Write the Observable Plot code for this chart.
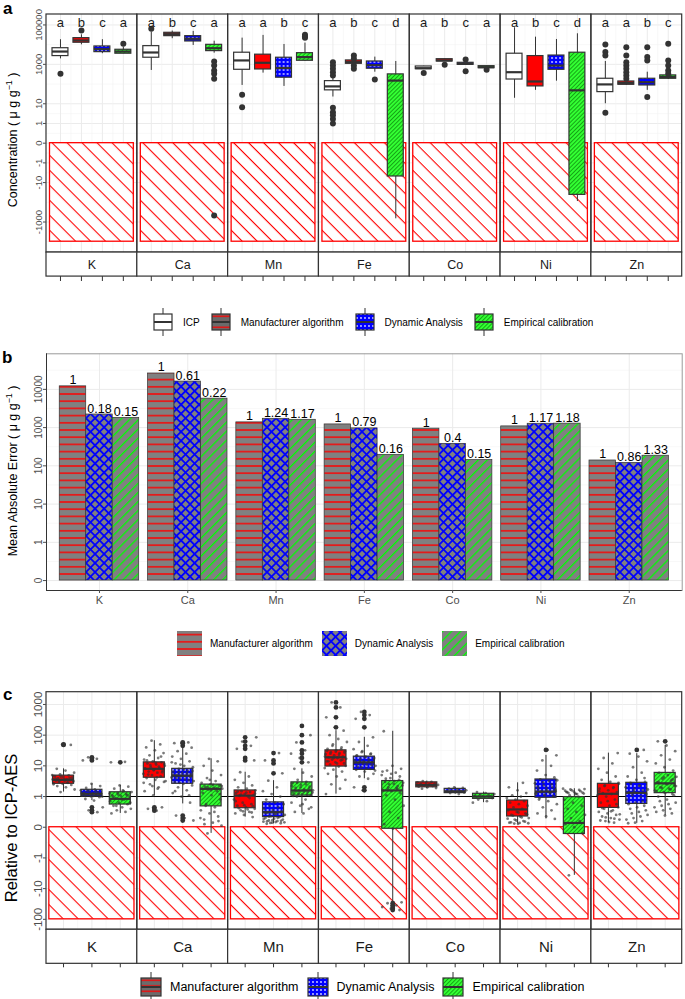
<!DOCTYPE html>
<html><head><meta charset="utf-8">
<script src="https://cdn.jsdelivr.net/npm/d3@7"></script>
<script src="https://cdn.jsdelivr.net/npm/@observablehq/plot@0.6"></script>
<style>
html,body{margin:0;padding:0;background:#fff;}
#root{position:relative;width:685px;height:999px;font-family:"Liberation Sans",Arial,Helvetica,sans-serif;overflow:hidden;background:#fff;}
.abs{position:absolute;left:0;}
.abs svg{display:block;}
.tag{position:absolute;font-weight:bold;font-size:17px;line-height:17px;color:#000;}
.ytitle{position:absolute;white-space:nowrap;transform:translate(-50%,-50%) rotate(-90deg);color:#000;line-height:1;}
.ytitle sup{font-size:0.7em;line-height:0;}
.legend{position:absolute;display:flex;align-items:center;white-space:nowrap;color:#000;}
.legend svg{display:block;flex:none;}
.item{display:flex;align-items:center;}
</style></head>
<body><div id="root"></div>
<script>
// ---------------- DATA ----------------
const elements = ["K", "Ca", "Mn", "Fe", "Co", "Ni", "Zn"];
const methodsA = ["ICP", "Manufacturer algorithm", "Dynamic Analysis", "Empirical calibration"];
const methodsC = ["Manufacturer algorithm", "Dynamic Analysis", "Empirical calibration"];

// Panel a: concentration box statistics (µg/g) per element: [lower whisker, Q1, median, Q3, upper whisker]
const boxA_ICP = [[1900,2630,4470,6600,17800],[490,2170,4000,8400,43000],[85,530,1580,3900,21400],[22,48,76,141,224],[560,570,640,780,800],[19,170,400,3470,72000],[10,39,96,186,1400]];
const boxA_Man = [[9800,12500,16300,21400,31700],[20000,27000,34000,40000,49000],[360,550,1200,3100,29500],[1000,1070,1290,1580,1700],[1380,1400,1580,1830,1850],[48,76,135,2630,24000],[85,92,112,135,150]];
const boxA_Dyn = [[3470,4170,5900,8100,17800],[9100,14500,20000,27000,47000],[76,210,650,2170,10200],[400,600,910,1400,2330],[940,950,1070,1200,1250],[140,530,870,2800,18300],[48,85,125,186,400]];
const boxA_Emp = [[3470,3470,4470,5500,7400],[3700,4700,6600,9800,15000],[1400,1520,2330,3700,12000],[-690,-4.9,150,310,1400],[630,640,720,810,820],[-91,-42,48,3900,35600],[170,186,225,275,300]];
const outA_ICP = [[330],[64000],[29,6.7],[1290,870,600,400,275,6.3,3.7,2.6,1.7,1],[360],[],[10200,4200,2800,3.5]];
const outA_Man = [[52500],[],[],[2800,1900,870,600],[950],[],[7400,2800,1290,870,600,400,275,186]];
const outA_Dyn = [[],[],[],[170],[1780,450],[],[7400,2330,1580,22]];
const outA_Emp = [[11200],[1400,870,490,330,186,-470],[32000,26000,22500],[],[540],[],[11200,1580,870,490,330]];
const lettersA = [["a","b","c","a"],["a","b","c","a"],["a","a","b","c"],["a","b","c","d"],["a","b","c","a"],["a","b","c","d"],["a","a","b","c"]];
const negA = -10000;
const yTickA = [-1000, -10, -1, 0, 1, 10, 1000, 100000];

// Panel b: mean absolute error (µg/g) and labels
const maeMan = [12000, 26000, 1370, 1210, 940, 1075, 138];
const maeDyn = [2200, 16000, 1700, 955, 376, 1260, 119];
const maeEmp = [1800, 5720, 1600, 194, 141, 1270, 184];
const labMan = ["1", "1", "1", "1", "1", "1", "1"];
const labDyn = ["0.18", "0.61", "1.24", "0.79", "0.4", "1.17", "0.86"];
const labEmp = ["0.15", "0.22", "1.17", "0.16", "0.15", "1.18", "1.33"];
const yTickB = [0, 1, 10, 100, 1000, 10000];

// Panel c: relative to ICP-AES
const boxC_Man = [[1.4,2.6,3.5,4.8,8],[1.07,4.1,8,13,66],[0.33,0.62,1.07,1.58,6.2],[1.2,9.5,19,32,140],[1.8,2.0,2.4,2.9,3.2],[0.11,0.35,0.58,0.87,2.8],[0.15,0.63,1.23,2.6,26]];
const boxC_Dyn = [[0.87,1.0,1.23,1.66,2.6],[0.76,2.6,4.8,8,39],[0.11,0.33,0.49,0.81,3.3],[3.8,7.4,13,20,85],[1.2,1.29,1.48,1.78,2.0],[0.27,0.96,1.45,3.6,22],[0.13,0.76,1.32,2.8,25]];
const boxC_Emp = [[0.45,0.74,0.925,1.38,2.3],[-0.2,0.68,1.78,2.45,17],[0.45,1.07,1.58,2.9,8],[-28,-0.05,1.58,3.2,134],[0.8,0.925,1.0,1.23,1.4],[-3.7,-0.22,0.14,0.98,1.8],[0.38,1.29,2.7,5.9,46]];
const outC_Man = [[48,50],[0.54,0.6,0.65],[15,18,36,45,62,85],[180,380,800,1170],[],[],[]];
const outC_Dyn = [[15,17,19,0.49,0.55,0.65],[45,55,58,0.22,0.3,0.38],[5.7,12,15,26],[180,340,450,570,2.0,1.6],[],[33],[33]];
const outC_Emp = [[13],[],[13,18,25,32,58,100,200],[-30,-35,-40,-45,-50],[],[],[63]];
const ptsC_Man = [
 [1.4,1.7,2,2.2,2.4,2.6,2.7,2.8,3,3.1,3.2,3.3,3.4,3.5,3.6,3.7,3.9,4.1,4.3,4.6,4.9,5.3,6,7,8,48,50,2.5,2.9,3.2,3.4,3.6,3.8,4.0,4.5,5],
 [0.54,0.6,0.65,1.1,1.5,2,2.5,3,3.5,4,4.5,5,5.5,6,6.5,7,7.5,8,8.5,9,10,11,12,13,14,16,18,22,26,32,40,50,66,3.2,4.2,5.2,6.2,7.2,8.2,9.5,10.5,11.5,12.5,15,20,2.2,2.8,1.8],
 [0.33,0.4,0.45,0.5,0.55,0.6,0.65,0.7,0.75,0.8,0.9,1.0,1.05,1.1,1.2,1.3,1.4,1.5,1.6,1.8,2.0,2.3,2.8,3.5,4.5,6.2,15,18,36,45,62,85,0.58,0.62,0.68,0.72,0.85,0.95,1.15,1.25,1.35,1.45,0.48,0.52],
 [1.2,1.8,2.5,3.5,4.5,5.5,6.5,7.5,8.5,9.5,11,12,13,14,15,16,17,18,19,20,22,24,26,28,30,32,36,40,50,60,75,100,140,180,380,800,1170,10,12,14,16,18,20,23,25,27,29,31,35,45],
 [1.8,1.9,2.0,2.1,2.2,2.3,2.4,2.5,2.6,2.7,2.8,2.9,3.0,3.2],
 [0.11,0.15,0.2,0.25,0.3,0.35,0.4,0.45,0.5,0.55,0.6,0.65,0.7,0.75,0.8,0.85,0.9,0.95,1.0,1.1,1.3,1.6,2.0,2.8,0.12,0.13,0.14,0.16,0.18,0.22,0.28,0.32,0.38,0.42,0.48],
 [0.15,0.2,0.25,0.3,0.35,0.4,0.45,0.5,0.55,0.6,0.65,0.7,0.8,0.9,1.0,1.1,1.2,1.3,1.4,1.6,1.8,2.0,2.3,2.6,3.0,3.5,4.5,6,8,12,18,26,0.17,0.22,0.28,0.32,0.42,0.52,0.62,0.75,0.85,1.5,1.9,2.2,2.8]];
const ptsC_Dyn = [
 [0.49,0.55,0.65,0.87,0.92,0.98,1.02,1.08,1.12,1.18,1.23,1.28,1.33,1.4,1.5,1.6,1.7,1.9,2.2,2.6,15,17,19,1.0,1.05,1.1,1.15,1.2,1.3,1.45,1.55],
 [0.22,0.3,0.38,0.8,1,1.3,1.6,2,2.3,2.6,3,3.4,3.8,4.2,4.6,5,5.5,6,6.5,7,8,9,10,12,14,17,20,25,30,39,45,55,58,2.8,3.2,3.6,4,4.4,4.8,5.2,5.8,6.2,6.8,7.5,1.5,1.1,11,13],
 [0.11,0.13,0.15,0.18,0.2,0.22,0.25,0.28,0.3,0.33,0.36,0.4,0.44,0.48,0.52,0.56,0.6,0.65,0.7,0.75,0.8,0.9,1.0,1.2,1.5,2.0,3.3,5.7,12,15,26,0.14,0.16,0.17,0.19,0.21,0.23,0.27,0.31,0.35,0.38,0.42,0.46],
 [1.6,2.0,3.8,4.5,5.5,6.5,7.4,8,9,10,11,12,13,14,15,16,17,18,20,22,25,30,35,45,60,85,180,340,450,570,7,8.5,9.5,10.5,11.5,12.5,13.5,14.5,16,19,21,24,28],
 [1.2,1.3,1.35,1.4,1.45,1.5,1.55,1.6,1.7,1.8,1.9,2.0],
 [0.27,0.35,0.45,0.55,0.65,0.75,0.85,0.95,1.0,1.1,1.2,1.3,1.4,1.5,1.6,1.8,2.0,2.3,2.7,3.2,3.6,4.2,5,7,10,15,22,33,0.9,1.05,1.15,1.25,1.35,1.45,1.7,1.9,2.1,2.5,2.9,3.4],
 [0.13,0.2,0.3,0.4,0.5,0.6,0.7,0.8,0.9,1.0,1.1,1.2,1.3,1.4,1.6,1.8,2.0,2.3,2.6,3.0,3.5,4.5,6,9,14,20,25,33,0.15,0.25,0.35,0.45,0.55,0.65,0.75,0.85,1.5,1.7,2.2,2.8,4]];
const ptsC_Emp = [
 [0.45,0.5,0.55,0.6,0.65,0.7,0.75,0.8,0.85,0.9,0.95,1.0,1.05,1.1,1.2,1.3,1.4,1.6,1.8,2.1,2.3,13,13.5,0.7,0.8,0.9,1.0,1.1,1.15,1.25,1.5],
 [-0.2,0.05,0.15,0.25,0.35,0.45,0.55,0.65,0.75,0.9,1.1,1.3,1.5,1.7,1.8,1.9,2.1,2.3,2.5,2.8,3.2,4,5,7,10,14,17,0.3,0.5,0.7,1.2,1.6,1.75,1.85,2.0,2.2,2.4,0.1,0.2,3.5],
 [0.45,0.5,0.6,0.7,0.8,0.9,1.0,1.1,1.2,1.3,1.4,1.5,1.6,1.7,1.9,2.1,2.4,2.7,3.0,3.5,4.5,6,8,13,18,25,32,58,100,200,1.05,1.15,1.25,1.35,1.45,1.55,1.8,2.0,2.2,2.5,2.8,0.65,0.75],
 [-50,-45,-40,-35,-30,-28,-0.05,0.1,0.3,0.5,0.7,0.9,1.1,1.3,1.5,1.6,1.8,2.0,2.3,2.6,3.0,3.5,4,5,6,7,8,10,134,2.2,2.5,2.8,3.2,3.8,4.5,5.5,6.5,1.9,1.7],
 [0.8,0.85,0.9,0.95,1.0,1.05,1.1,1.15,1.2,1.3,1.4],
 [-3.7,-0.2,0,0.1,0.2,0.3,0.4,0.5,0.6,0.7,0.8,0.9,1.0,1.1,1.25,1.3,1.4,1.5,1.6,1.8,1.2,1.3,1.35,1.45,1.55,1.65,1.7,1.75,1.2,1.4],
 [0.38,0.5,0.6,0.7,0.8,0.9,1.0,1.2,1.4,1.6,1.8,2.0,2.3,2.6,2.9,3.3,3.8,4.4,5.0,5.9,7,9,12,16,22,30,46,63,0.45,0.55,0.65,0.75,0.85,1.1,1.3,1.5,1.7,1.9,2.2,2.5,3.0,3.6,4.2]];
const negC = -100;
const refC = 1;
const yTickC = [-100, -10, -1, 0, 1, 10, 100, 1000];

// ---------------- HELPERS ----------------
// signed log transform: |v|>=1 -> sign*(log10|v|+1), linear in [-1,1]
const sl = v => v >= 1 ? Math.log10(v) + 1 : v <= -1 ? -(Math.log10(-v) + 1) : v;
const INK = "#333333", GRID = "#ebebeb", GRIDMIN = "#f3f3f3", TXT = "#4d4d4d";
const FONT = '"Liberation Sans", Arial, Helvetica, sans-serif';
const root = document.getElementById("root");

root.insertAdjacentHTML("beforeend", `<svg width="0" height="0" style="position:absolute;left:0;top:0"><defs>
<pattern id="hatchRed" width="10.6" height="10.6" patternUnits="userSpaceOnUse" patternTransform="rotate(45)"><rect width="10.6" height="10.6" fill="#fff"/><rect width="10.6" height="1.1" fill="#ff0000"/></pattern>
<pattern id="pDyn" width="4" height="4" patternUnits="userSpaceOnUse"><rect width="4" height="4" fill="#0000ff"/><circle cx="2" cy="2" r="0.9" fill="#dcdcff"/></pattern>
<pattern id="pEmp" width="2.9" height="2.9" patternUnits="userSpaceOnUse" patternTransform="rotate(-45)"><rect width="2.9" height="2.9" fill="#33ff33"/><rect width="2.9" height="0.9" fill="#129c12"/></pattern>
<pattern id="bMan" width="10" height="7.2" patternUnits="userSpaceOnUse"><rect width="10" height="7.2" fill="#808080"/><rect y="2.9" width="10" height="1.4" fill="#ff0000"/></pattern>
<pattern id="bDyn" width="6.4" height="6.4" patternUnits="userSpaceOnUse" patternTransform="rotate(45)"><rect width="6.4" height="6.4" fill="#808080"/><rect width="6.4" height="1.8" fill="#0000ff"/><rect width="1.8" height="6.4" fill="#0000ff"/></pattern>
<pattern id="bEmp" width="6.4" height="6.4" patternUnits="userSpaceOnUse" patternTransform="rotate(-45)"><rect width="6.4" height="6.4" fill="#808080"/><rect width="6.4" height="1.3" fill="#00ff00"/></pattern>
<pattern id="legMan" width="8" height="5.5" patternUnits="userSpaceOnUse"><rect width="8" height="5.5" fill="#6b6b6b"/><rect y="2.2" width="8" height="1.3" fill="#ff0000"/></pattern>
</defs></svg>`);

function labelOf(ticks) {
  return t => { let best = ticks[0], bd = Infinity; for (const v of ticks) { const dd = Math.abs(sl(v) - t); if (dd < bd) { bd = dd; best = v; } } return String(best); };
}
function minorOf(majT, lo, hi) {
  const m = [];
  for (let i = 0; i < majT.length - 1; i++) m.push((majT[i] + majT[i + 1]) / 2);
  m.push(majT[0] - (majT[1] - majT[0]) / 2, majT[majT.length - 1] + (majT[majT.length - 1] - majT[majT.length - 2]) / 2);
  return m.filter(t => t > lo && t < hi);
}
function boxRows(boxes) {
  const rows = [];
  boxes.forEach((arr, j) => arr.forEach((b, i) => rows.push({el: elements[i], x: j + 1, lo: b[0], q1: b[1], med: b[2], q3: b[3], hi: b[4]})));
  return rows;
}
function valueRows(lists) {
  const rows = [];
  lists.forEach((arr, j) => arr.forEach((vals, i) => vals.forEach((v, k) => rows.push({el: elements[i], ei: i, x: j + 1, v, k}))));
  return rows;
}
const jit = d => ((((d.k * 0.6180339887) + d.x * 0.37 + d.ei * 0.23) % 1) - 0.5) * 0.8;

function place(node, top) {
  const d = document.createElement("div");
  d.className = "abs"; d.style.top = top + "px";
  d.appendChild(node); root.appendChild(d);
}
function addHTML(html) { root.insertAdjacentHTML("beforeend", html); }

function facetPanel(o) {
  const n = o.boxes.length;
  const rows = boxRows(o.boxes);
  const outs = valueRows(o.outs);
  const majT = o.yTicks.map(sl);
  const minT = minorOf(majT, o.panelBottom, o.yTop);
  const xMaj = d3.range(1, n + 1);
  const xMin = d3.range(1.5, n, 1);
  const [x0, x1] = o.xDomain;
  const marks = [
    Plot.ruleY(minT, {y: d => d, stroke: GRIDMIN, strokeWidth: 0.6}),
    Plot.ruleY(majT, {y: d => d, stroke: GRID, strokeWidth: 1}),
    Plot.ruleX(xMin, {x: d => d, y1: o.panelBottom, y2: o.yTop, stroke: GRIDMIN, strokeWidth: 0.6}),
    Plot.ruleX(xMaj, {x: d => d, y1: o.panelBottom, y2: o.yTop, stroke: GRID, strokeWidth: 1}),
    Plot.rect(elements, {fx: d => d, x1: 0.5, x2: n + 0.5, y1: sl(o.neg), y2: 0, fill: "url(#hatchRed)", stroke: "#ff0000", strokeWidth: 1.3})
  ];
  if (o.ref !== undefined) marks.push(Plot.ruleY([o.ref], {y: d => sl(d), stroke: "#000", strokeWidth: 1.1}));
  marks.push(Plot.ruleX(rows, {fx: "el", x: "x", y1: d => sl(d.lo), y2: d => sl(d.hi), stroke: INK, strokeWidth: 1}));
  o.fills.forEach((f, j) => {
    marks.push(Plot.rect(rows.filter(d => d.x === j + 1), {fx: "el", x1: d => d.x - o.hw, x2: d => d.x + o.hw, y1: d => sl(d.q1), y2: d => sl(d.q3), fill: f, stroke: INK, strokeWidth: 1.2}));
  });
  marks.push(Plot.ruleY(rows, {fx: "el", y: d => sl(d.med), x1: d => d.x - o.hw, x2: d => d.x + o.hw, stroke: INK, strokeWidth: 2.2}));
  marks.push(Plot.dot(outs, {fx: "el", x: "x", y: d => sl(d.v), r: o.outR, fill: INK, stroke: "none"}));
  if (o.pts) {
    const pts = valueRows(o.pts);
    marks.push(Plot.dot(pts, {fx: "el", x: d => d.x + jit(d), y: d => sl(d.v), r: 1.4, fill: INK, fillOpacity: 0.65, stroke: "none"}));
  }
  if (o.letters) {
    const lr = [];
    o.letters.forEach((arr, i) => arr.forEach((t, j) => lr.push({el: elements[i], x: j + 1, t})));
    marks.push(Plot.text(lr, {fx: "el", x: "x", y: o.letterT, text: "t", fontSize: 13, fill: "#1a1a1a"}));
  }
  marks.push(
    Plot.rect(elements, {fx: d => d, x1: x0, x2: x1, y1: o.panelBottom, y2: o.yTop, fill: "none", stroke: INK, strokeWidth: 1.2}),
    Plot.rect(elements, {fx: d => d, x1: x0, x2: x1, y1: o.stripBottom, y2: o.panelBottom, fill: "#fff", stroke: INK, strokeWidth: 1.2}),
    Plot.text(elements, {fx: d => d, x: (x0 + x1) / 2, y: (o.stripBottom + o.panelBottom) / 2, text: d => d, fontSize: o.stripFont, fill: "#1a1a1a"}),
    Plot.ruleX(xMaj, {x: d => d, y1: o.stripBottom, y2: o.stripBottom - o.tickLen, stroke: INK, strokeWidth: 1}),
    Plot.axisY({ticks: majT, tickFormat: labelOf(o.yTicks), tickRotate: -90, textAnchor: "middle", lineAnchor: "bottom", tickSize: 3, tickPadding: 2, fontSize: o.tickFont, color: TXT, label: null})
  );
  return Plot.plot({
    width: 685, height: o.height, marginLeft: 46, marginRight: 3.3, marginTop: o.marginTop, marginBottom: o.marginBottom,
    style: {fontFamily: FONT, background: "transparent", overflow: "visible"},
    fx: {domain: elements, padding: 0, round: false, axis: null, label: null},
    x: {domain: o.xDomain, axis: null},
    y: {domain: [o.yBottom, o.yTop]},
    marks
  });
}

// ---------------- PANEL A ----------------
place(facetPanel({
  boxes: [boxA_ICP, boxA_Man, boxA_Dyn, boxA_Emp],
  outs: [outA_ICP, outA_Man, outA_Dyn, outA_Emp],
  fills: ["#ffffff", "#ff0000", "url(#pDyn)", "url(#pEmp)"],
  letters: lettersA, letterT: 6.13,
  yTicks: yTickA, neg: negA,
  xDomain: [1 / 3, 14 / 3], hw: 0.38,
  yTop: 6.53, yBottom: -7.07, panelBottom: -5.55, stripBottom: -6.77, tickLen: 0.25,
  height: 290, marginTop: 14, marginBottom: 8,
  outR: 3, tickFont: 9.5, stripFont: 12.5
}), 0);

// ---------------- PANEL B ----------------
(function () {
  const series = [maeMan, maeDyn, maeEmp], labs = [labMan, labDyn, labEmp];
  const fills = ["url(#bMan)", "url(#bDyn)", "url(#bEmp)"];
  const rows = [];
  series.forEach((s, j) => s.forEach((v, i) => rows.push({i: i + 1, j, v, lab: labs[j][i]})));
  const majT = yTickB.map(sl);
  const yDom = [-0.26, 5.93], xDom = [0.4, 7.6];
  const minT = minorOf(majT, yDom[0], yDom[1]);
  const marks = [
    Plot.ruleY(minT, {y: d => d, stroke: GRIDMIN, strokeWidth: 0.6}),
    Plot.ruleY(majT, {y: d => d, stroke: GRID, strokeWidth: 1}),
    Plot.ruleX(d3.range(1, elements.length + 1), {x: d => d, stroke: GRID, strokeWidth: 1})
  ];
  fills.forEach((f, j) => marks.push(Plot.rect(rows.filter(d => d.j === j), {x1: d => d.i - 0.45 + 0.3 * d.j, x2: d => d.i - 0.15 + 0.3 * d.j, y1: 0, y2: d => sl(d.v), fill: f, stroke: INK, strokeWidth: 0.7})));
  marks.push(
    Plot.text(rows, {x: d => d.i - 0.3 + 0.3 * d.j, y: d => sl(d.v), text: "lab", lineAnchor: "bottom", dy: -2, fontSize: 12.5, fill: "#000"}),
    Plot.frame({stroke: "#9a9a9a", strokeWidth: 1}),
    Plot.ruleX([xDom[0]], {x: d => d, stroke: INK, strokeWidth: 1}),
    Plot.ruleY([yDom[0]], {y: d => d, stroke: INK, strokeWidth: 1}),
    Plot.axisY({ticks: majT, tickFormat: labelOf(yTickB), tickRotate: -90, textAnchor: "middle", lineAnchor: "bottom", tickSize: 3, tickPadding: 2, fontSize: 10, color: TXT, label: null}),
    Plot.axisX({ticks: d3.range(1, elements.length + 1), tickFormat: i => elements[i - 1], tickSize: 3, tickPadding: 3, fontSize: 11, color: TXT, label: null})
  );
  place(Plot.plot({
    width: 685, height: 275, marginLeft: 46, marginRight: 3.3, marginTop: 13.3, marginBottom: 25,
    style: {fontFamily: FONT, background: "transparent", overflow: "visible"},
    x: {domain: xDom}, y: {domain: yDom},
    marks
  }), 340);
})();

// ---------------- PANEL C ----------------
place(facetPanel({
  boxes: [boxC_Man, boxC_Dyn, boxC_Emp],
  outs: [outC_Man, outC_Dyn, outC_Emp],
  pts: [ptsC_Man, ptsC_Dyn, ptsC_Emp],
  fills: ["#ff0000", "url(#pDyn)", "url(#pEmp)"],
  yTicks: yTickC, neg: negC, ref: refC,
  xDomain: [0.4, 3.6], hw: 0.37,
  yTop: 4.40, yBottom: -4.57, panelBottom: -3.34, stripBottom: -4.45, tickLen: 0.13,
  height: 315, marginTop: 31.7, marginBottom: 8,
  outR: 2.4, tickFont: 11.5, stripFont: 15
}), 660);

// ---------------- TEXT: tags, titles, legends ----------------
addHTML(`<div class="tag" style="left:3px;top:0px">a</div>`);
addHTML(`<div class="tag" style="left:2px;top:348.6px">b</div>`);
addHTML(`<div class="tag" style="left:3px;top:685.6px">c</div>`);
addHTML(`<div class="ytitle" style="left:13px;top:140px;font-size:12.5px">Concentration ( μ g g<sup>−1</sup> )</div>`);
addHTML(`<div class="ytitle" style="left:13px;top:471px;font-size:12.5px">Mean Absolute Error ( μ g g<sup>−1</sup> )</div>`);
addHTML(`<div class="ytitle" style="left:11px;top:828px;font-size:16.5px">Relative to ICP-AES</div>`);

function boxKey(fill, w, h) {
  const bt = Math.round(h * 0.2), bb = h - bt;
  return `<svg width="${w}" height="${h}"><line x1="${w / 2}" x2="${w / 2}" y1="0" y2="${h}" stroke="${INK}" stroke-width="1"/><rect x="1" y="${bt}" width="${w - 2}" height="${bb - bt}" fill="${fill}" stroke="${INK}" stroke-width="1.2"/><line x1="1" x2="${w - 1}" y1="${h / 2}" y2="${h / 2}" stroke="${INK}" stroke-width="2"/></svg>`;
}
function barKey(fill, s) {
  return `<svg width="${s}" height="${s}"><rect width="${s}" height="${s}" fill="${fill}"/></svg>`;
}
function legend(cy, left, h, font, keys, labels, keyGap, itemGap) {
  addHTML(`<div class="legend" style="left:${left}px;top:${cy - h / 2}px;height:${h}px;font-size:${font}px">` +
    keys.map((k, i) => `<span class="item" style="margin-left:${i ? itemGap : 0}px">${k}<span style="margin-left:${keyGap}px">${labels[i]}</span></span>`).join("") + `</div>`);
}
legend(322, 153, 30, 10, [boxKey("#ffffff", 20, 28), boxKey("url(#legMan)", 20, 28), boxKey("url(#pDyn)", 20, 28), boxKey("url(#pEmp)", 20, 28)], methodsA, 10, 11);
legend(643.5, 177, 26, 10, [barKey("url(#bMan)", 25), barKey("url(#bDyn)", 25), barKey("url(#bEmp)", 25)], methodsC, 8, 9);
legend(987, 140, 30, 12.5, [boxKey("url(#legMan)", 22, 30), boxKey("url(#pDyn)", 22, 30), boxKey("url(#pEmp)", 22, 30)], methodsC, 8, 8);
</script>
</body></html>
